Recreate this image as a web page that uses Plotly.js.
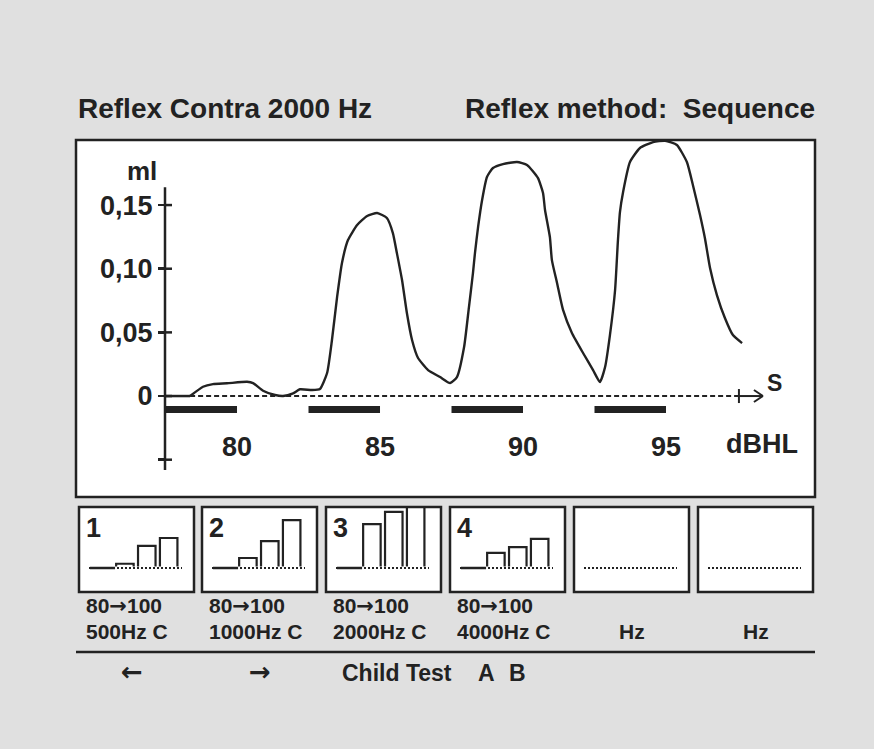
<!DOCTYPE html>
<html><head><meta charset="utf-8">
<script src="https://cdn.plot.ly/plotly-3.0.1.min.js"></script>
<style>html,body{margin:0;padding:0;background:#e0e0e0;} #chart{width:874px;height:749px;}</style>
</head><body><div id="chart"></div>
<script>
// ---------- data ----------
const levels = [80, 85, 90, 95];
const stimDuration = 2.5;          // stimulus bar length (in level units)
const curveX = [78.36, 78.81, 79.16, 79.65, 80.35, 80.56, 80.91, 81.33, 81.61, 81.96, 82.20, 82.62, 82.90, 83.15, 83.32, 83.50, 83.67, 83.88, 84.20, 84.55, 84.90, 85.24, 85.45, 85.59, 85.77, 85.94, 86.12, 86.33, 86.68, 87.10, 87.45, 87.69, 87.94, 88.11, 88.25, 88.32, 88.43, 88.57, 88.74, 88.95, 89.30, 89.79, 90.14, 90.52, 90.70, 90.77, 90.94, 91.01, 91.19, 91.40, 91.71, 92.10, 92.45, 92.69, 92.87, 93.04, 93.22, 93.32, 93.39, 93.50, 93.74, 94.09, 94.55, 94.97, 95.38, 95.73, 95.94, 96.19, 96.36, 96.54, 96.78, 97.06, 97.34, 97.66];
const curveY = [0, 0.0073, 0.0094, 0.0100, 0.0112, 0.0102, 0.0042, 0.0008, 0.0000, 0.0021, 0.0053, 0.0047, 0.0055, 0.0181, 0.0440, 0.0778, 0.1045, 0.1225, 0.1343, 0.1414, 0.1438, 0.1398, 0.1280, 0.1123, 0.0911, 0.0652, 0.0440, 0.0299, 0.0204, 0.0149, 0.0102, 0.0149, 0.0385, 0.0699, 0.0966, 0.1123, 0.1328, 0.1540, 0.1720, 0.1791, 0.1822, 0.1838, 0.1815, 0.1713, 0.1595, 0.1461, 0.1249, 0.1068, 0.0888, 0.0676, 0.0495, 0.0338, 0.0204, 0.0110, 0.0228, 0.0479, 0.0833, 0.1225, 0.1445, 0.1603, 0.1838, 0.1948, 0.1995, 0.2005, 0.1972, 0.1838, 0.1658, 0.1422, 0.1241, 0.1006, 0.0793, 0.0613, 0.0479, 0.0416];
const yTickVals = [-0.05, 0, 0.05, 0.10, 0.15];
const yTickText = ['', '0', '0,05', '0,10', '0,15'];
const miniNumbers = ['1', '2', '3', '4', '', ''];
const miniRangeFrom = ['80', '80', '80', '80', '', ''];
const miniRangeTo = ['100', '100', '100', '100', '', ''];
const miniFreqs = ['500Hz C', '1000Hz C', '2000Hz C', '4000Hz C', 'Hz', 'Hz'];
const miniValues = [
  [0, 0.014, 0.073, 0.099],
  [0, 0.033, 0.089, 0.158],
  [0, 0.145, 0.185, 0.205],
  [0, 0.050, 0.069, 0.096]
];
const titleLeft = 'Reflex Contra 2000 Hz';
const titleRight = 'Reflex method:\u00a0\u00a0Sequence';

// ---------- layout helpers ----------
const W = 874, H = 749;
const px = v => v / W, py = v => 1 - v / H;
const FONT = 'Liberation Sans, Arial, sans-serif';
const INK = '#222222';
const BG = '#e0e0e0';
const f = (size, weight, family) => ({family: family || FONT, size: size, color: INK, weight: weight || 'bold'});
const ARROW = s => '<span style="font-family:DejaVu Sans">' + s + '</span>';

const traces = [];
const shapes = [];
const annotations = [];

// main curve
traces.push({type: 'scatter', mode: 'lines', x: curveX, y: curveY, xaxis: 'x', yaxis: 'y',
  line: {color: INK, width: 2.4, shape: 'spline', smoothing: 0.5}, hoverinfo: 'skip', showlegend: false});

// stimulus bars
const sx = [], sy = [];
levels.forEach(l => { sx.push(l - stimDuration, l, null); sy.push(-0.0106, -0.0106, null); });
traces.push({type: 'scatter', mode: 'lines', x: sx, y: sy, xaxis: 'x', yaxis: 'y',
  line: {color: INK, width: 7}, hoverinfo: 'skip', showlegend: false});

// main box
const MB = {l: 76, r: 815, t: 140, b: 497};
shapes.push({type: 'rect', xref: 'paper', yref: 'paper', x0: px(MB.l), x1: px(MB.r), y0: py(MB.b), y1: py(MB.t),
  fillcolor: '#ffffff', line: {width: 0}, layer: 'below'});
shapes.push({type: 'rect', xref: 'paper', yref: 'paper', x0: px(MB.l), x1: px(MB.r), y0: py(MB.b), y1: py(MB.t),
  line: {color: INK, width: 2.5}, layer: 'above'});

// y axis line and crossing ticks
const AXX = 165;
shapes.push({type: 'line', xref: 'paper', yref: 'y', x0: px(AXX), x1: px(AXX), y0: -0.058, y1: 0.164, line: {color: INK, width: 2.5}});
yTickVals.forEach(v => shapes.push({type: 'line', xref: 'paper', yref: 'y', x0: px(AXX), x1: px(AXX + 7), y0: v, y1: v, line: {color: INK, width: 2.5}}));

// zero line: solid to curve start, dashed, solid + arrow
const arrowTick = 97.55, arrowTip = 98.39;
const xAtAxis = 74.37 + (AXX - MB.l) / 28.6;
shapes.push({type: 'line', xref: 'x', yref: 'y', x0: xAtAxis, x1: curveX[0], y0: 0, y1: 0, line: {color: INK, width: 2.5}});
shapes.push({type: 'line', xref: 'x', yref: 'y', x0: curveX[0], x1: arrowTick, y0: 0, y1: 0, line: {color: INK, width: 2, dash: '5px,3px'}});
shapes.push({type: 'line', xref: 'x', yref: 'y', x0: arrowTick, x1: arrowTip, y0: 0, y1: 0, line: {color: INK, width: 2}});
shapes.push({type: 'line', xref: 'x', yref: 'y', ysizemode: 'pixel', yanchor: 0, x0: arrowTick, x1: arrowTick, y0: -7, y1: 7, line: {color: INK, width: 2}});
[6, -6].forEach(d => shapes.push({type: 'line', xref: 'x', yref: 'y', xsizemode: 'pixel', ysizemode: 'pixel', xanchor: arrowTip, yanchor: 0,
  x0: 0, x1: -9, y0: 0, y1: d, line: {color: INK, width: 2}}));

// titles & labels
annotations.push({xref: 'paper', yref: 'paper', x: px(76), y: py(109), xanchor: 'left', yanchor: 'middle', text: titleLeft, showarrow: false, font: f(28)});
annotations.push({xref: 'paper', yref: 'paper', x: px(817), y: py(109), xanchor: 'right', yanchor: 'middle', text: titleRight, showarrow: false, font: f(28)});
annotations.push({xref: 'paper', yref: 'paper', x: px(142), y: py(171), xanchor: 'center', yanchor: 'middle', text: 'ml', showarrow: false, font: f(26)});
annotations.push({xref: 'paper', yref: 'paper', x: px(762), y: py(444), xanchor: 'center', yanchor: 'middle', text: 'dBHL', showarrow: false, font: f(27)});
annotations.push({xref: 'paper', yref: 'paper', x: px(774), y: py(383), xanchor: 'center', yanchor: 'middle', text: 'S', showarrow: false, font: f(23)});

const layout = {
  width: W, height: H, margin: {l: 0, r: 0, t: 0, b: 0},
  paper_bgcolor: BG, plot_bgcolor: 'rgba(0,0,0,0)', showlegend: false, bargap: 0.2,
  xaxis: {domain: [px(MB.l), px(MB.r)], range: [74.37, 100.21], anchor: 'free', position: py(428),
    showline: false, showgrid: false, zeroline: false, tickmode: 'array', tickvals: levels, ticktext: levels.map(String),
    ticks: '', tickfont: f(27), fixedrange: true},
  yaxis: {domain: [py(MB.b), py(MB.t)], range: [-0.0793, 0.2011], anchor: 'free', position: px(AXX),
    showline: false, showgrid: false, zeroline: false, tickmode: 'array', tickvals: yTickVals, ticktext: yTickText,
    ticks: 'outside', ticklen: 7, tickwidth: 2.5, tickcolor: INK, tickfont: f(27), fixedrange: true}
};

// mini boxes
const boxLefts = [79, 202, 326, 450, 574, 698];
const BW = 115, BT = 507, BBot = 592;
boxLefts.forEach((L, i) => {
  const n = i + 2;
  layout['xaxis' + n] = {domain: [px(L), px(L + BW)], range: [-1.097, 4.157], anchor: 'y' + n, visible: false, type: 'category', fixedrange: true};
  layout['yaxis' + n] = {domain: [py(BBot), py(BT)], range: [-0.0792, 0.2013], anchor: 'x' + n, visible: false, fixedrange: true};
  shapes.push({type: 'rect', xref: 'paper', yref: 'paper', x0: px(L), x1: px(L + BW), y0: py(BBot), y1: py(BT), fillcolor: '#ffffff', line: {width: 0}, layer: 'below'});
  shapes.push({type: 'rect', xref: 'paper', yref: 'paper', x0: px(L), x1: px(L + BW), y0: py(BBot), y1: py(BT), line: {color: INK, width: 2.5}, layer: 'above'});
  // baseline
  shapes.push({type: 'line', xref: 'x' + n + ' domain', yref: 'y' + n, x0: 10 / BW, x1: 103 / BW, y0: 0, y1: 0, line: {color: '#ffffff', width: 3}, layer: 'above'});
  shapes.push({type: 'line', xref: 'x' + n + ' domain', yref: 'y' + n, x0: 10 / BW, x1: 103 / BW, y0: 0, y1: 0, line: {color: INK, width: 2, dash: '2px,2px'}, layer: 'above'});
  if (miniValues[i]) {
    traces.push({type: 'bar', x: levels.map(String), y: miniValues[i], xaxis: 'x' + n, yaxis: 'y' + n,
      marker: {color: '#ffffff', line: {color: INK, width: 2.2}}, hoverinfo: 'skip', showlegend: false});
    miniValues[i].forEach((v, k) => {
      if (v === 0) shapes.push({type: 'line', xref: 'x' + n, yref: 'y' + n, x0: k - 0.6, x1: k + 0.55, y0: 0, y1: 0, line: {color: INK, width: 2.5}, layer: 'above'});
    });
  }
  if (miniNumbers[i]) annotations.push({xref: 'paper', yref: 'paper', x: px(L + 5), y: py(528), xanchor: 'left', yanchor: 'middle', text: miniNumbers[i], showarrow: false, font: f(27)});
  if (miniRangeFrom[i]) annotations.push({xref: 'paper', yref: 'paper', x: px(L + 6), y: py(606), xanchor: 'left', yanchor: 'middle',
    text: miniRangeFrom[i] + ARROW('\u2192') + miniRangeTo[i], showarrow: false, font: f(21), borderpad: 0});
  const centered = !miniRangeFrom[i];
  annotations.push({xref: 'paper', yref: 'paper', x: centered ? px(L + BW / 2) : px(L + 6), y: py(631), xanchor: centered ? 'center' : 'left', yanchor: 'middle', text: miniFreqs[i], showarrow: false, font: f(21), borderpad: 0});
});

// bottom rule and footer
shapes.push({type: 'line', xref: 'paper', yref: 'paper', x0: px(76), x1: px(815), y0: py(652), y1: py(652), line: {color: INK, width: 2.5}});
annotations.push({xref: 'paper', yref: 'paper', x: px(132), y: py(672), xanchor: 'center', yanchor: 'middle', text: ARROW('\u2190'), showarrow: false, font: f(26)});
annotations.push({xref: 'paper', yref: 'paper', x: px(260), y: py(672), xanchor: 'center', yanchor: 'middle', text: ARROW('\u2192'), showarrow: false, font: f(26)});
annotations.push({xref: 'paper', yref: 'paper', x: px(340), y: py(673), xanchor: 'left', yanchor: 'middle', text: 'Child Test', showarrow: false, font: f(23)});
annotations.push({xref: 'paper', yref: 'paper', x: px(476), y: py(673), xanchor: 'left', yanchor: 'middle', text: 'A', showarrow: false, font: f(23)});
annotations.push({xref: 'paper', yref: 'paper', x: px(507), y: py(673), xanchor: 'left', yanchor: 'middle', text: 'B', showarrow: false, font: f(23)});

layout.shapes = shapes;
layout.annotations = annotations;
Plotly.newPlot('chart', traces, layout, {displayModeBar: false, staticPlot: true});
</script></body></html>
